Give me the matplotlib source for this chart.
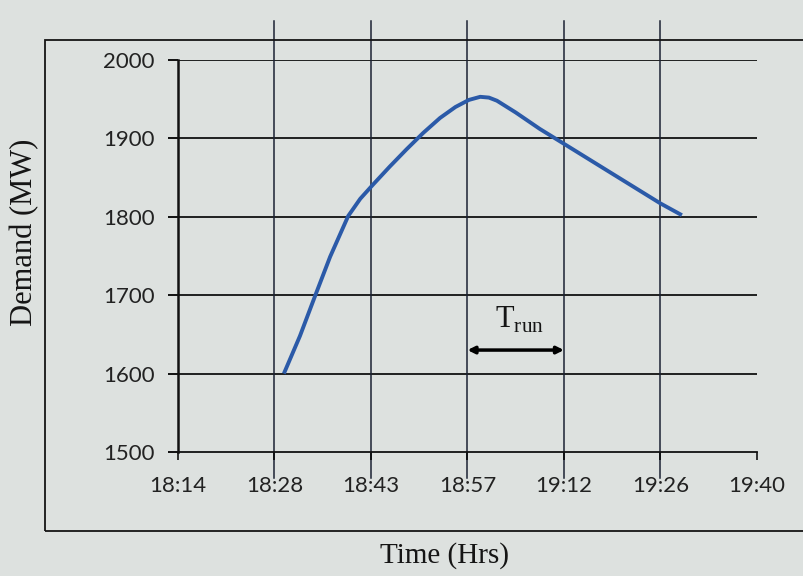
import matplotlib
matplotlib.use("Agg")
import matplotlib.pyplot as plt
from matplotlib.patches import Rectangle

# minutes after 18:00 (axis major unit is 0.01 day = 14.4 min)
tick_pos = [14.4, 28.8, 43.2, 57.6, 72.0, 86.4, 100.8]
tick_labels = ['18:14', '18:28', '18:43', '18:57', '19:12', '19:26', '19:40']
y_ticks = [1500, 1600, 1700, 1800, 1900, 2000]

# demand curve
time_min = [30.2, 32.6, 34.9, 37.1, 39.8, 41.6, 43.5, 46.0, 48.5, 51.0, 53.5,
            55.8, 57.8, 59.5, 60.8, 62.0, 64.8, 68.4, 72.2, 79.2, 86.4, 89.6]
demand_mw = [1600, 1648, 1700, 1749, 1801, 1823, 1841, 1864, 1886, 1907, 1926,
             1940, 1949, 1953, 1952, 1948, 1933, 1912, 1892, 1855, 1817, 1802]

t_run = (57.6, 72.0)
t_run_level = 1630

bg = '#dde1df'
plt.rcParams['mathtext.fontset'] = 'custom'
plt.rcParams['mathtext.rm'] = 'Liberation Serif'

fig = plt.figure(figsize=(8.04, 5.76), dpi=100, facecolor=bg)
ax = fig.add_axes([0.2214, 0.2153, 0.7201, 0.6806], facecolor=bg)

# outer chart frame
fig.patches.append(Rectangle((0.056, 0.078), 1.0, 0.852, transform=fig.transFigure,
                             fill=False, lw=1.3, edgecolor='#151515'))

ax.set_xlim(tick_pos[0], tick_pos[-1])
ax.set_ylim(y_ticks[0], y_ticks[-1])
ax.set_xticks(tick_pos)
ax.set_xticklabels(tick_labels)
ax.set_yticks(y_ticks)

for y in y_ticks[1:]:
    ax.axhline(y, color='#111111', lw=1.3, zorder=1)
for x in tick_pos[1:-1]:
    ax.axvline(x, ymin=-0.066, ymax=1.10, color='#1b2233', lw=1.1, clip_on=False, zorder=1)

ax.plot(time_min, demand_mw, color='#2b5aa8', lw=2.8, solid_capstyle='butt',
        solid_joinstyle='round', zorder=3)

ax.annotate('', xy=(t_run[0], t_run_level), xytext=(t_run[1], t_run_level),
            arrowprops=dict(arrowstyle='<|-|>', color='black', lw=2.5,
                            mutation_scale=10, shrinkA=0, shrinkB=0))
ax.text((t_run[0] + t_run[1]) / 2 + 0.5, 1668, r'T$_{\mathrm{run}}$', ha='center', va='center',
        family='Liberation Serif', fontsize=22, color='#151515')

for side in ['top', 'right']:
    ax.spines[side].set_visible(False)
ax.spines['left'].set_linewidth(1.8)
ax.spines['bottom'].set_linewidth(1.3)
ax.spines['left'].set_color('#111111')
ax.spines['bottom'].set_color('#111111')

ax.tick_params(axis='y', direction='out', length=7, width=1.3, pad=10,
               labelsize=16, labelcolor='#222222')
ax.tick_params(axis='x', direction='out', length=6, width=1.1, pad=11,
               labelsize=16, labelcolor='#222222')
for lbl in ax.get_xticklabels() + ax.get_yticklabels():
    lbl.set_family('Lato')

fig.text(0.030, 0.597, 'Demand (MW)', rotation=90, ha='center', va='center',
         family='Liberation Serif', fontsize=22, color='#151515')
fig.text(0.553, 0.035, 'Time (Hrs)', ha='center', va='center',
         family='Liberation Serif', fontsize=21, color='#151515')

fig.savefig('out.png', dpi=100, facecolor=bg)
